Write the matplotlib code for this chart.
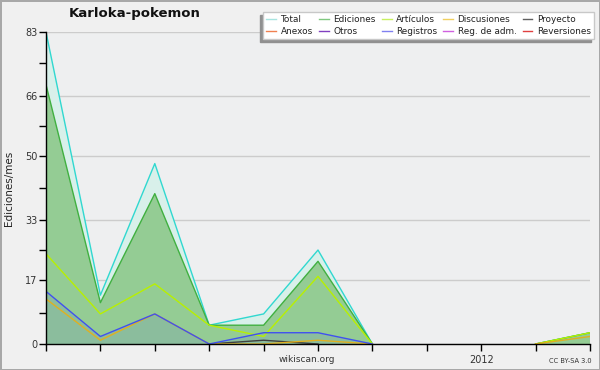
import matplotlib
matplotlib.use("Agg")
import matplotlib.pyplot as plt
import numpy as np

nan = np.nan

# months, index 0..10 (2012 = January at index 8)
months = list(range(11))
tick_labels = ['', '', '', '', '', '', '', '', '2012', '', '']

total = [83, 13, 48, 5, 8, 25, 0, nan, nan, 0, 3]
ediciones = [69, 11, 40, 5, 5, 22, 0, nan, nan, 0, 3]
articulos = [24, 8, 16, 5, 2, 18, 0, nan, nan, 0, 3]
registros = [14, 2, 8, 0, 3, 3, 0, nan, nan, nan, nan]
discusiones = [12, 1, 8, 0, 0, 1, 0, nan, nan, 0, 2]
proyecto = [nan, nan, nan, 0, 1, 0, nan, nan, nan, nan, nan]

legend_names = ['Total', 'Anexos', 'Ediciones', 'Otros', 'Artículos',
                'Registros', 'Discusiones', 'Reg. de adm.', 'Proyecto', 'Reversiones']
legend_colors = ['#a8e4e0', '#f08050', '#80c880', '#8040c0', '#c8f060',
                 '#8080f0', '#f0d060', '#d060e0', '#606060', '#e04040']

plt.rcParams['font.family'] = ['DejaVu Sans']

fig = plt.figure(figsize=(6, 3.7), dpi=100, facecolor='#f0f0f0',
                 edgecolor='#a8a8a8', linewidth=2)
ax = fig.add_axes([46 / 600, 26 / 370, 544 / 600, 312 / 370])
ax.set_facecolor('#eeeff0')

x = np.array(months)
ax.fill_between(x, total, color='#d8f0ea', lw=0)
ax.fill_between(x, ediciones, color='#94cc94', lw=0)
ax.fill_between(x, registros, color='#4040f0', alpha=0.1, lw=0)

ax.plot(x, total, color='#30d8d0', lw=1)
ax.plot(x, ediciones, color='#40b040', lw=1)
ax.plot(x, articulos, color='#b8f000', lw=1)
ax.plot(x, proyecto, color='#404040', lw=1)
ax.plot(x, discusiones, color='#e0b020', lw=1)
ax.plot(x, registros, color='#4050f0', lw=1)

ax.set_xlim(0, 10)
ax.set_ylim(0, 83)
ax.set_xticks(months)
ax.set_xticklabels(tick_labels)
ax.set_yticks([0, 17, 33, 50, 66, 83])
ax.set_yticks([8.3, 24.9, 41.5, 58.1, 74.7], minor=True)
ax.tick_params(axis='both', which='both', direction='out', length=5,
               width=1, color='black', labelsize=7, labelcolor='#333333', pad=1)
ax.tick_params(axis='x', pad=3)
ax.grid(axis='y', which='major', color='#cccccc', lw=1)
ax.set_axisbelow(True)
for side in ['top', 'right']:
    ax.spines[side].set_visible(False)
ax.spines['left'].set_linewidth(1)
ax.spines['bottom'].set_linewidth(1)

ax.set_ylabel('Ediciones/mes', fontsize=7.5, color='#222222', labelpad=8)

fig.text(135 / 600, 1 - 14 / 370, 'Karloka-pokemon', fontsize=9.5,
         fontweight='bold', ha='center', va='center', color='#111111')
fig.text(307 / 600, 1 - 360 / 370, 'wikiscan.org', fontsize=6.5,
         ha='center', va='center', color='#333333')
fig.text(570 / 600, 1 - 361 / 370, 'CC BY-SA 3.0', fontsize=4.8,
         ha='center', va='center', color='#333333')

handles = [plt.Line2D([], [], color=c, lw=1) for c in legend_colors]
leg = fig.legend(handles, legend_names, ncol=5, loc='upper right',
                 bbox_to_anchor=(594 / 600, 1 - 12 / 370), fontsize=6.4,
                 frameon=True, fancybox=False, handlelength=1.1,
                 handletextpad=0.5, columnspacing=0.7, labelspacing=0.3,
                 borderpad=0.35, borderaxespad=0,
                 shadow={'ox': -2, 'oy': -2, 'color': '#909090', 'alpha': 1})
leg.get_frame().set_edgecolor('#c8c8c8')
leg.get_frame().set_linewidth(1)
for t in leg.get_texts():
    t.set_color('#222222')

fig.savefig('out.png', dpi=100, facecolor=fig.get_facecolor(),
            edgecolor=fig.get_edgecolor())
